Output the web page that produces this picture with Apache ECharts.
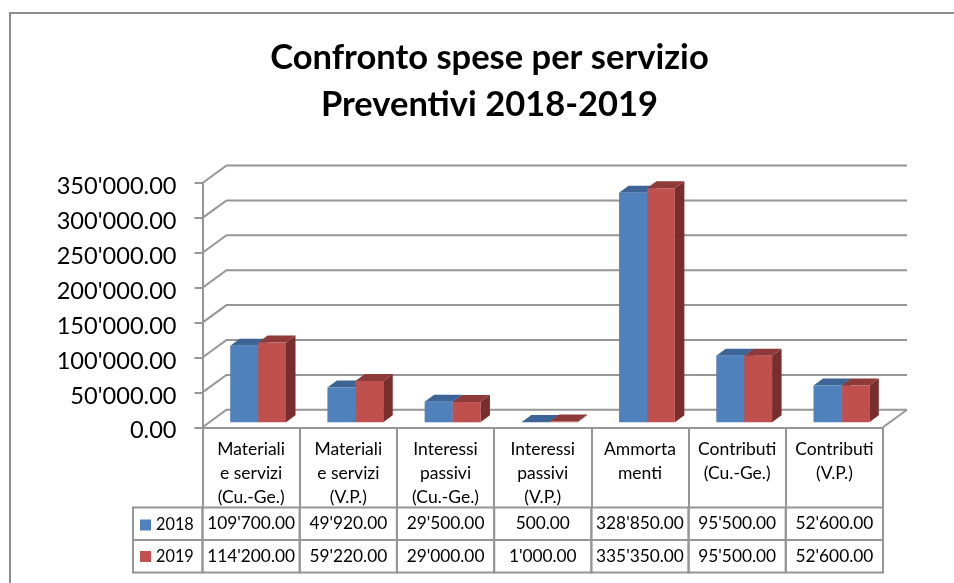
<!DOCTYPE html>
<html>
<head>
<meta charset="utf-8">
<style>
html, body { margin: 0; padding: 0; background: #fff; }
#main { width: 954px; height: 583px; }
</style>
<script src="https://cdn.jsdelivr.net/npm/echarts@6/dist/echarts.min.js"></script>
</head>
<body>
<div id="main"></div>
<script>
var categories = [
    "Materiali\ne servizi\n(Cu.-Ge.)",
    "Materiali\ne servizi\n(V.P.)",
    "Interessi\npassivi\n(Cu.-Ge.)",
    "Interessi\npassivi\n(V.P.)",
    "Ammorta\nmenti",
    "Contributi\n(Cu.-Ge.)",
    "Contributi\n(V.P.)"
];
var values2018 = [109700, 49920, 29500, 500, 328850, 95500, 52600];
var values2019 = [114200, 59220, 29000, 1000, 335350, 95500, 52600];
var yTicks = [0, 50000, 100000, 150000, 200000, 250000, 300000, 350000];

var lineColor = "#969696";
var fontName = "Lato";

// 1234.5 -> 1'234.50
function money(v) {
    var s = v.toFixed(2).split(".");
    return s[0].replace(/\B(?=(\d{3})+$)/g, "'") + "." + s[1];
}

// floor depth of the fake 3d box, and of the bars
var wallDx = 24, wallDy = -17.5;
var barDx = 9.5, barDy = -7;
var barShiftX = 7, barShiftY = -5;
var barRatio = 0.287;

function renderWall(params, api) {
    var p = api.coord([0, api.value(0)]);
    var left = params.coordSys.x;
    var right = left + params.coordSys.width;
    var y = p[1];
    var children = [{
        type: "polyline",
        shape: { points: [[left, y], [left + wallDx, y + wallDy], [right + wallDx, y + wallDy]] },
        style: { fill: null, stroke: lineColor, lineWidth: 2 }
    }];
    if (api.value(0) === 0) {
        children.push({
            type: "line",
            shape: { x1: right, y1: y, x2: right + wallDx, y2: y + wallDy },
            style: { stroke: lineColor, lineWidth: 2 }
        });
    }
    return { type: "group", children: children };
}

function barRenderer(side, front, top, dark) {
    return function (params, api) {
        var idx = api.value(0);
        var base = api.coord([idx, 0]);
        var tip = api.coord([idx, api.value(1)]);
        var w = api.size([1, 0])[0] * barRatio;
        var x0 = base[0] + barShiftX + (side === 0 ? -w : 0);
        var x1 = x0 + w;
        var yb = base[1] + barShiftY;
        var yt = tip[1] + barShiftY;
        return {
            type: "group",
            children: [
                { type: "polygon", shape: { points: [[x1, yb], [x1 + barDx, yb + barDy], [x1 + barDx, yt + barDy], [x1, yt]] }, style: { fill: dark } },
                { type: "polygon", shape: { points: [[x0, yt], [x0 + barDx, yt + barDy], [x1 + barDx, yt + barDy], [x1, yt]] }, style: { fill: top } },
                { type: "rect", shape: { x: x0, y: yt, width: w, height: yb - yt }, style: { fill: front } }
            ]
        };
    };
}

// table rows under the axis
var rowTops = [507.5, 540, 572.5];

function renderTable(params, api) {
    var idx = api.value(0);
    var c = api.coord([idx, 0])[0];
    var w = api.size([1, 0])[0];
    var children = [];
    [values2018, values2019].forEach(function (vals, r) {
        children.push({
            type: "rect",
            shape: { x: c - w / 2, y: rowTops[r], width: w, height: rowTops[r + 1] - rowTops[r] },
            style: { fill: null, stroke: lineColor, lineWidth: 2 }
        });
        children.push({
            type: "text",
            style: {
                text: money(vals[idx]), x: c, y: (rowTops[r] + rowTops[r + 1]) / 2,
                align: "center", verticalAlign: "middle",
                font: "17.3px " + fontName, fill: "#000"
            }
        });
    });
    return { type: "group", children: children };
}

var myChart = echarts.init(document.getElementById("main"), null, { renderer: "canvas" });
var option = {
    backgroundColor: "#fff",
    animation: false,
    textStyle: { fontFamily: fontName },
    title: {
        text: "Confronto spese per servizio\nPreventivi 2018-2019",
        left: 484.5, top: 29, textAlign: "center",
        textStyle: { fontSize: 34.5, fontWeight: "bold", color: "#000", lineHeight: 47, fontFamily: fontName }
    },
    legend: {
        orient: "vertical", left: 135, top: 512,
        data: ["2018", "2019"],
        icon: "rect", itemWidth: 11, itemHeight: 11, itemGap: 15.5,
        textStyle: { fontSize: 16.3, color: "#000" }
    },
    grid: { left: 202.5, right: 71, top: 183, bottom: 155.7 },
    xAxis: {
        type: "category",
        data: categories,
        axisLine: { lineStyle: { color: lineColor, width: 2 } },
        axisTick: { show: true, length: 80, lineStyle: { color: lineColor, width: 2 } },
        axisLabel: {
            interval: 0, fontSize: 17.5, lineHeight: 24, color: "#000", margin: 10,
            verticalAlign: "top"
        }
    },
    yAxis: {
        type: "value",
        min: 0, max: 350000, interval: 50000,
        axisLine: { show: true, lineStyle: { color: lineColor, width: 2 } },
        axisTick: { show: true, length: 8, lineStyle: { color: lineColor, width: 2 } },
        splitLine: { show: false },
        axisLabel: { fontSize: 23.6, color: "#000", margin: 26, verticalAlign: "top", lineHeight: 7, formatter: money }
    },
    series: [
        { name: "wall", type: "custom", data: yTicks.map(function (t) { return [t]; }), renderItem: renderWall, z: 1, silent: true, encode: { y: 0 } },
        {
            name: "2018", type: "custom", z: 3,
            data: values2018.map(function (v, i) { return [i, v]; }),
            renderItem: barRenderer(0, "#4F81BD", "#3C6494", "#3C6494"),
            itemStyle: { color: "#4F81BD" }, encode: { x: 0, y: 1 }
        },
        {
            name: "2019", type: "custom", z: 4,
            data: values2019.map(function (v, i) { return [i, v]; }),
            renderItem: barRenderer(1, "#C0504D", "#8E3A38", "#772F2D"),
            itemStyle: { color: "#C0504D" }, encode: { x: 0, y: 1 }
        },
        { name: "table", type: "custom", z: 2, data: categories.map(function (c, i) { return [i]; }), renderItem: renderTable, silent: true, encode: { x: 0 } }
    ],
    graphic: [
        { type: "rect", shape: { x: 133, y: rowTops[0], width: 69.5, height: rowTops[1] - rowTops[0] }, style: { fill: null, stroke: lineColor, lineWidth: 2 } },
        { type: "rect", shape: { x: 133, y: rowTops[1], width: 69.5, height: rowTops[2] - rowTops[1] }, style: { fill: null, stroke: lineColor, lineWidth: 2 } },
        { type: "polyline", shape: { points: [[10, 583], [10, 13], [954, 13]] }, style: { fill: null, stroke: "#8c8c8c", lineWidth: 2 } }
    ]
};
myChart.setOption(option);
</script>
</body>
</html>
